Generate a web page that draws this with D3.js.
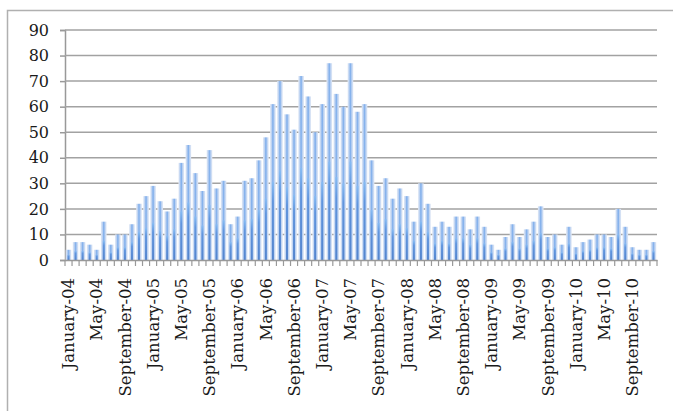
<!DOCTYPE html>
<html>
<head>
<meta charset="utf-8">
<script src="https://cdn.jsdelivr.net/npm/d3@7"></script>
<style>
  body { margin: 0; background: #fff; }
  svg { display: block; }
</style>
</head>
<body>
<svg id="chart"></svg>
<script>
// monthly counts, Jan 2004 .. Dec 2010
const values2004 = [4, 7, 7, 6, 4, 15, 6, 10, 10, 14, 22, 25];
const values2005 = [29, 23, 19, 24, 38, 45, 34, 27, 43, 28, 31, 14];
const values2006 = [17, 31, 32, 39, 48, 61, 70, 57, 51, 72, 64, 50];
const values2007 = [61, 77, 65, 60, 77, 58, 61, 39, 29, 32, 24, 28];
const values2008 = [25, 15, 30, 22, 13, 15, 13, 17, 17, 12, 17, 13];
const values2009 = [6, 4, 9, 14, 9, 12, 15, 21, 9, 10, 6, 13];
const values2010 = [5, 7, 8, 10, 10, 9, 20, 13, 5, 4, 4, 7];

const monthNames = ["January", "February", "March", "April", "May", "June",
  "July", "August", "September", "October", "November", "December"];
const years = ["04", "05", "06", "07", "08", "09", "10"];

const xTickLabels = ["January-04", "May-04", "September-04", "January-05", "May-05",
  "September-05", "January-06", "May-06", "September-06", "January-07", "May-07",
  "September-07", "January-08", "May-08", "September-08", "January-09", "May-09",
  "September-09", "January-10", "May-10", "September-10"];
const yTicks = [0, 10, 20, 30, 40, 50, 60, 70, 80, 90];

const allValues = [values2004, values2005, values2006, values2007, values2008, values2009, values2010];
const data = [];
years.forEach(function(yr, i) {
  monthNames.forEach(function(m, j) {
    data.push({ label: m + "-" + yr, value: allValues[i][j] });
  });
});

const W = 673, H = 411;
const margin = { top: 30, right: 16, bottom: 151, left: 65 };
const width = W - margin.left - margin.right,
  height = H - margin.top - margin.bottom;

const svg = d3.select("#chart").attr("width", W).attr("height", H);

// outer chart frame (cut off at right/bottom like the screenshot)
svg.append("rect")
  .attr("x", 7.5).attr("y", 10.5)
  .attr("width", 700).attr("height", 430)
  .attr("fill", "#fff")
  .attr("stroke", "#b0b0b0")
  .attr("stroke-width", 1.5);

const defs = svg.append("defs");
const hGrad = defs.append("linearGradient").attr("id", "barH")
  .attr("x1", "0").attr("x2", "1").attr("y1", "0").attr("y2", "0");
[["0%", "#e3eaf6"], ["28%", "#b9d0f1"], ["45%", "#86b2ec"], ["55%", "#86b2ec"],
 ["72%", "#b9d0f1"], ["100%", "#e3eaf6"]].forEach(function(s) {
  hGrad.append("stop").attr("offset", s[0]).attr("stop-color", s[1]);
});
const vGrad = defs.append("linearGradient").attr("id", "barCore")
  .attr("x1", "0").attr("x2", "0").attr("y1", "0").attr("y2", "1");
[["0%", "#86bdf4"], ["25%", "#5a90db"], ["100%", "#4a7cc8"]].forEach(function(s) {
  vGrad.append("stop").attr("offset", s[0]).attr("stop-color", s[1]);
});

const g = svg.append("g")
  .attr("transform", "translate(" + margin.left + "," + margin.top + ")");

const x = d3.scaleBand()
  .domain(data.map(function(d) { return d.label; }))
  .range([0, width])
  .padding(0);

const y = d3.scaleLinear()
  .domain([0, 90])
  .range([height, 0]);

// gridlines + y axis
const yAxis = g.append("g")
  .call(d3.axisLeft(y).tickValues(yTicks).tickSize(5).tickPadding(11));
yAxis.select(".domain").attr("stroke", "#999").attr("stroke-width", 1.5);
yAxis.selectAll(".tick line").attr("stroke", "#999").attr("stroke-width", 1.5);
yAxis.selectAll(".tick text")
  .attr("fill", "#1a1a1a")
  .style("font-family", "'DejaVu Serif', serif")
  .style("font-size", "16px");

g.append("g").selectAll("line")
  .data(yTicks.filter(function(t) { return t > 0; }))
  .enter().append("line")
  .attr("x1", 0).attr("x2", width)
  .attr("y1", function(d) { return y(d); })
  .attr("y2", function(d) { return y(d); })
  .attr("stroke", "#a2a2a2")
  .attr("stroke-width", 1.5);

// bars
const bw = x.bandwidth() * 0.8;
const bars = g.append("g").selectAll("g.bar")
  .data(data).enter().append("g").attr("class", "bar");
bars.append("rect")
  .attr("x", function(d) { return x(d.label) + (x.bandwidth() - bw) / 2; })
  .attr("y", function(d) { return y(d.value); })
  .attr("width", bw)
  .attr("height", function(d) { return height - y(d.value); })
  .attr("fill", "url(#barH)");
bars.append("rect")
  .attr("x", function(d) { return x(d.label) + x.bandwidth() / 2 - 1; })
  .attr("y", function(d) { return y(d.value * 0.5); })
  .attr("width", 2)
  .attr("height", function(d) { return height - y(d.value * 0.5); })
  .attr("fill", "url(#barCore)")
  .attr("opacity", 0.85);

// x axis
const xAxis = g.append("g")
  .attr("transform", "translate(0," + height + ")")
  .call(d3.axisBottom(x).tickValues([]).tickSizeOuter(0));
xAxis.select(".domain").attr("stroke", "#999").attr("stroke-width", 1.5);

// month boundary ticks
g.append("g").selectAll("line")
  .data(data)
  .enter().append("line")
  .attr("x1", function(d) { return x(d.label) + x.bandwidth(); })
  .attr("x2", function(d) { return x(d.label) + x.bandwidth(); })
  .attr("y1", height).attr("y2", height + 6)
  .attr("stroke", "#999").attr("stroke-width", 1.2);
g.append("line")
  .attr("x1", 0).attr("x2", 0).attr("y1", height).attr("y2", height + 6)
  .attr("stroke", "#999").attr("stroke-width", 1.2);

// rotated month labels
g.append("g").selectAll("text")
  .data(xTickLabels)
  .enter().append("text")
  .attr("transform", function(d) {
    return "translate(" + (x(d) + x.bandwidth() / 2) + "," + (height + 18) + ") rotate(-90)";
  })
  .attr("dy", "0.35em")
  .attr("text-anchor", "end")
  .attr("fill", "#1a1a1a")
  .style("font-family", "'DejaVu Serif', serif")
  .style("font-size", "16.5px")
  .text(function(d) { return d; });
</script>
</body>
</html>
